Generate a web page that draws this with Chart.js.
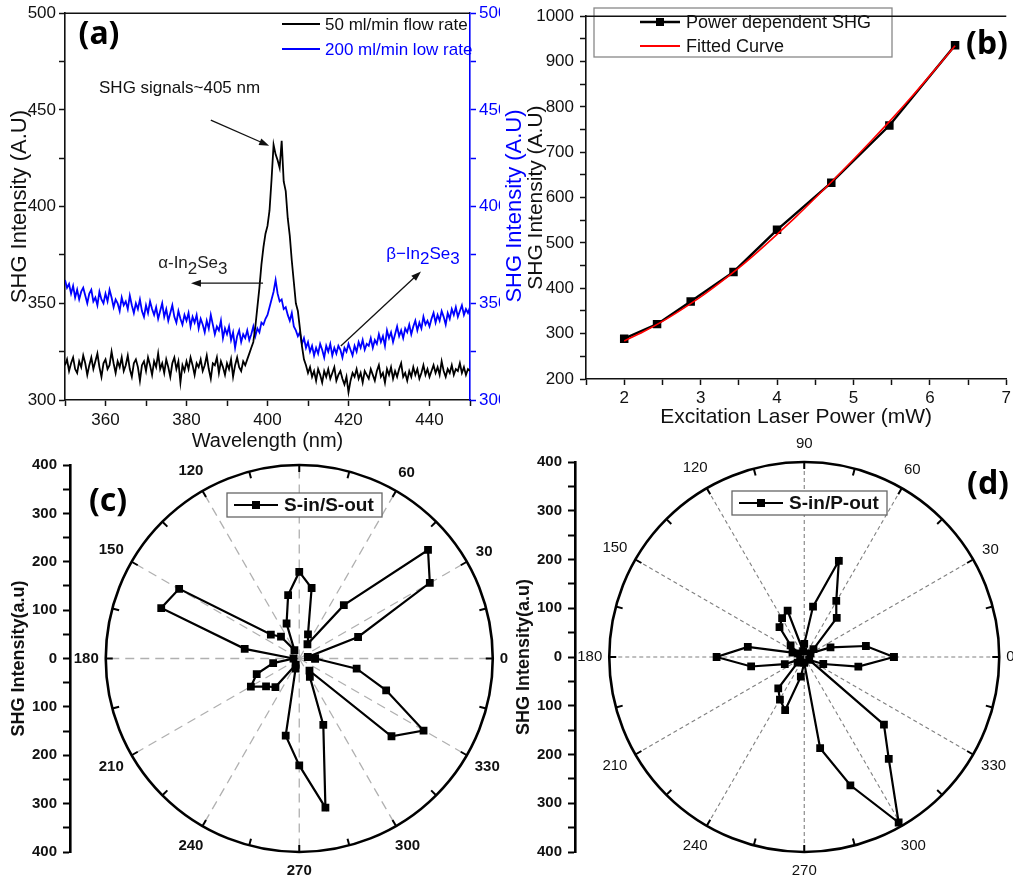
<!DOCTYPE html>
<html lang="en">
<head>
<meta charset="UTF-8">
<title>SHG of In2Se3</title>
<script src="https://cdn.jsdelivr.net/npm/chart.js@4.4.1/dist/chart.umd.min.js"></script>
<style>
  html, body { margin: 0; padding: 0; background: #fff; overflow: hidden; }
  body { width: 1013px; height: 881px; position: relative; }
  canvas { position: absolute; }
  #chartA { left: 0; top: 0; }
  #chartB { left: 500px; top: 0; }
  #chartC { left: 0; top: 450px; }
  #chartD { left: 505px; top: 430px; }
</style>
</head>
<body>
<canvas id="chartA" width="530" height="453"></canvas>
<canvas id="chartB" width="514" height="430"></canvas>
<canvas id="chartC" width="508" height="431"></canvas>
<canvas id="chartD" width="508" height="451"></canvas>

<script>
// --- spectra, 0.5 nm steps starting at 350 nm ---
const wlStart = 350;
const wlStep = 0.5;
const flow50 = [
  318,321,315,319,322,316,314,320,317,323,
  319,313,318,322,316,320,324,317,312,319,
  321,316,318,325,319,314,320,317,322,315,
  318,323,316,312,319,321,317,310,318,320,
  315,322,318,313,320,317,324,316,319,314,
  321,317,312,319,322,316,320,309,318,315,
  320,316,322,318,313,319,317,321,315,318,
  323,316,311,319,318,322,314,320,317,313,
  319,316,321,312,318,322,317,315,320,318,
  321,324,327,330,338,348,358,370,379,386,
  390,398,414,432,427,424,420,434,413,408,
  394,385,372,361,350,346,337,328,321,318,
  314,317,312,315,310,316,313,309,315,312,
  316,311,314,317,310,313,315,311,308,312,
  304,310,314,312,316,311,314,309,315,313,
  311,316,313,310,315,318,312,314,309,316,
  313,317,311,315,312,316,319,312,314,310,
  315,312,317,313,316,311,314,318,313,316,
  312,315,318,314,317,313,320,315,312,316,
  314,318,313,316,315,319,314,317,313,316,
  315
];
const flow200 = [
  362,358,360,355,359,353,357,352,356,358,
  354,350,355,357,351,353,349,356,352,350,
  355,351,357,353,348,352,350,346,353,349,
  351,347,354,349,345,350,347,352,346,343,
  349,345,351,347,344,348,342,346,350,343,
  347,341,345,349,343,340,346,342,339,344,
  341,345,338,343,340,344,337,342,339,335,
  341,337,344,339,334,338,336,341,332,337,
  334,338,331,335,327,333,336,330,334,332,
  336,331,334,338,333,337,335,340,339,342,
  344,348,352,356,362,355,351,352,347,348,
  344,341,345,338,336,333,335,329,332,327,
  330,325,328,323,327,324,329,326,322,328,
  325,329,323,327,324,328,326,322,327,325,
  329,326,323,328,325,330,327,331,326,329,
  328,332,327,331,329,334,330,333,328,336,
  332,335,330,334,338,333,336,332,337,335,
  339,334,338,341,336,340,337,343,339,341,
  338,342,345,340,344,341,346,343,339,345,
  342,347,344,348,343,346,349,344,347,345,
  348
];

// --- power dependence ---
const powerMW = [2.0, 2.43, 2.87, 3.43, 4.0, 4.71, 5.47, 6.33];
const shgPower = [289, 321, 371, 436, 529, 633, 759, 936];
const fitPowerMW = [2.0, 2.25, 2.5, 2.75, 3.0, 3.25, 3.5, 3.75, 4.0, 4.25, 4.5, 4.75, 5.0, 5.25, 5.5, 5.75, 6.0, 6.33];
const fitShg = [284, 304, 327, 353, 381, 412, 445, 481, 519, 558, 599, 641, 684, 728, 773, 820, 869, 935];

// --- polarization (degrees, intensity) ---
const polarAngles = [0,10,20,30,40,50,60,70,80,90,100,110,120,130,140,150,160,170,
                     180,190,200,210,220,230,240,250,260,270,280,290,300,310,320,330,340,350];
const ssOut = [33,18,130,313,349,144,34,53,148,179,133,77,20,59,77,288,305,115,
               12,55,94,116,90,77,15,22,162,221,313,146,44,33,250,298,192,121];
const spOut = [186,130,58,15,25,105,133,210,105,27,12,101,92,80,37,15,26,119,
               182,112,43,10,18,84,101,116,41,12,190,280,392,273,216,12,42,114];

const NARROW = "'Liberation Sans Narrow', 'Arial Narrow', 'Liberation Sans', Arial, sans-serif";
const SANS = "'Liberation Sans', Arial, sans-serif";
const TAG = "'Noto Sans', 'Liberation Sans', sans-serif";

Chart.defaults.font.family = SANS;
Chart.defaults.color = '#111';
Chart.defaults.animation = false;
Chart.defaults.responsive = false;
Chart.defaults.plugins.legend.display = false;
Chart.defaults.plugins.tooltip.enabled = false;

function drawArrow(ctx, x1, y1, x2, y2) {
  const a = Math.atan2(y2 - y1, x2 - x1), h = 10, w = 3.5;
  ctx.beginPath();
  ctx.moveTo(x1, y1);
  ctx.lineTo(x2 - h * 0.8 * Math.cos(a), y2 - h * 0.8 * Math.sin(a));
  ctx.stroke();
  ctx.beginPath();
  ctx.moveTo(x2, y2);
  ctx.lineTo(x2 - h * Math.cos(a) + w * Math.sin(a), y2 - h * Math.sin(a) - w * Math.cos(a));
  ctx.lineTo(x2 - h * Math.cos(a) - w * Math.sin(a), y2 - h * Math.sin(a) + w * Math.cos(a));
  ctx.closePath();
  ctx.fill();
}

// text with subscripted pieces: [[text, isSub], ...]
function drawChem(ctx, parts, x, y, size) {
  ctx.textAlign = 'left';
  ctx.textBaseline = 'middle';
  for (const [t, sub] of parts) {
    ctx.fillText(t, x, sub ? y + size * 0.32 : y);
    x += ctx.measureText(t).width;
  }
}

function squareMarker(ctx, x, y, s) {
  ctx.fillRect(x - s / 2, y - s / 2, s, s);
}

// line along the top of the plot area
const frameTop = {
  id: 'frameTop',
  afterDraw(chart, args, opts) {
    const {ctx, chartArea: ca} = chart;
    ctx.save();
    ctx.strokeStyle = opts.color || '#111';
    ctx.lineWidth = opts.width || 1.6;
    ctx.beginPath();
    ctx.moveTo(ca.left, ca.top);
    ctx.lineTo(ca.right, ca.top);
    ctx.stroke();
    ctx.restore();
  }
};

// legend rows drawn at fixed spots
const keyBox = {
  id: 'keyBox',
  afterDatasetsDraw(chart, args, opts) {
    const ctx = chart.ctx;
    ctx.save();
    if (opts.box) {
      const b = opts.box;
      ctx.fillStyle = '#fff';
      ctx.fillRect(b[0], b[1], b[2], b[3]);
      ctx.strokeStyle = opts.boxColor || '#888';
      ctx.lineWidth = 1.3;
      ctx.strokeRect(b[0], b[1], b[2], b[3]);
    }
    opts.items.forEach((it, i) => {
      const y = opts.y + i * (opts.dy || 0);
      ctx.strokeStyle = it.color;
      ctx.fillStyle = it.color;
      ctx.lineWidth = it.width || 2;
      ctx.beginPath();
      ctx.moveTo(opts.x, y);
      ctx.lineTo(opts.x + opts.len, y);
      ctx.stroke();
      if (it.marker) squareMarker(ctx, opts.x + opts.len / 2, y, it.marker);
      ctx.fillStyle = it.textColor || '#111';
      ctx.font = opts.font;
      ctx.textAlign = 'left';
      ctx.textBaseline = 'middle';
      ctx.fillText(it.text, opts.x + opts.len + opts.gap, y + 1);
    });
    ctx.restore();
  }
};

// panel letter
const panelTag = {
  id: 'panelTag',
  afterDraw(chart, args, opts) {
    const ctx = chart.ctx;
    ctx.save();
    ctx.font = 'bold 32px ' + TAG;
    ctx.fillStyle = '#000';
    ctx.textAlign = 'center';
    ctx.textBaseline = 'middle';
    ctx.fillText(opts.text, opts.x, opts.y);
    ctx.restore();
  }
};

// spectrum panel: clip at the neighbour panel, notes and arrows, blue axis title
const spectrumNotes = {
  id: 'spectrumNotes',
  beforeDraw(chart, args, opts) {
    chart.ctx.save();
    chart.ctx.beginPath();
    chart.ctx.rect(0, 0, opts.clipRight, chart.height);
    chart.ctx.clip();
  },
  afterDatasetsDraw(chart, args, opts) {
    const {ctx, scales: {x, y}} = chart;
    const px = v => x.getPixelForValue(v), py = v => y.getPixelForValue(v);
    ctx.save();
    ctx.font = '17px ' + SANS;
    ctx.fillStyle = '#111';
    ctx.textAlign = 'left';
    ctx.textBaseline = 'middle';
    ctx.fillText(opts.peakNote.text, px(opts.peakNote.x), py(opts.peakNote.y));
    ctx.strokeStyle = '#111';
    ctx.lineWidth = 1.3;
    opts.arrows.forEach(a => drawArrow(ctx, px(a[0]), py(a[1]), px(a[2]), py(a[3])));
    opts.phases.forEach(p => {
      ctx.fillStyle = p.color;
      drawChem(ctx, p.parts, px(p.x), py(p.y), 17);
    });
    ctx.restore();
  },
  afterDraw(chart, args, opts) {
    const ctx = chart.ctx;
    ctx.restore();
    ctx.save();
    ctx.translate(opts.sideTitle.x, opts.sideTitle.y);
    ctx.rotate(-Math.PI / 2);
    ctx.font = '22px ' + SANS;
    ctx.fillStyle = 'blue';
    ctx.textAlign = 'center';
    ctx.textBaseline = 'middle';
    ctx.fillText(opts.sideTitle.text, 0, 0);
    ctx.restore();
  }
};

// polar grid: dashed spokes, outer ring with ticks, angle labels
const polarFrame = {
  id: 'polarFrame',
  beforeDatasetsDraw(chart, args, opts) {
    const {ctx, scales: {x, y}} = chart;
    const cx = x.getPixelForValue(0), cy = y.getPixelForValue(0);
    const R = cy - y.getPixelForValue(opts.rMax);
    ctx.save();
    ctx.strokeStyle = opts.spokeColor;
    ctx.lineWidth = opts.spokeWidth;
    ctx.setLineDash(opts.dash);
    for (let a = 0; a < 360; a += 30) {
      const t = a * Math.PI / 180;
      ctx.beginPath();
      ctx.moveTo(cx, cy);
      ctx.lineTo(cx + R * Math.cos(t), cy - R * Math.sin(t));
      ctx.stroke();
    }
    ctx.setLineDash([]);
    ctx.strokeStyle = '#000';
    ctx.lineWidth = 2.6;
    ctx.beginPath();
    ctx.arc(cx, cy, R, 0, Math.PI * 2);
    ctx.stroke();
    ctx.lineWidth = 2;
    for (let a = 0; a < 360; a += 15) {
      const t = a * Math.PI / 180;
      ctx.beginPath();
      ctx.moveTo(cx + R * Math.cos(t), cy - R * Math.sin(t));
      ctx.lineTo(cx + (R - 7) * Math.cos(t), cy - (R - 7) * Math.sin(t));
      ctx.stroke();
    }
    ctx.font = opts.labelFont;
    ctx.fillStyle = '#111';
    ctx.textAlign = 'center';
    ctx.textBaseline = 'middle';
    for (let a = 0; a < 360; a += 30) {
      if (opts.hide.includes(a)) continue;
      const t = a * Math.PI / 180, txt = String(a);
      const c = Math.abs(Math.cos(t)), s = Math.abs(Math.sin(t));
      const w = ctx.measureText(txt).width, h = 11;
      const d = R + 7 + 6 * s + (w / 2) * c + (h / 2) * s;
      ctx.fillText(txt, cx + d * Math.cos(t), cy - d * Math.sin(t));
    }
    ctx.restore();
  }
};

function tickFont(size, weight) {
  return {family: NARROW, size: size, weight: weight || 'normal'};
}

// ---------- (a) spectra ----------
const wavelengths = flow50.map((_, i) => wlStart + i * wlStep);

new Chart(document.getElementById('chartA'), {
  type: 'line',
  data: {
    datasets: [
      {
        label: '50 ml/min flow rate',
        data: wavelengths.map((w, i) => ({x: w, y: flow50[i]})),
        borderColor: '#000', borderWidth: 1.8, pointRadius: 0, yAxisID: 'y'
      },
      {
        label: '200 ml/min low rate',
        data: wavelengths.map((w, i) => ({x: w, y: flow200[i]})),
        borderColor: '#0000ff', borderWidth: 1.8, pointRadius: 0, yAxisID: 'y2'
      }
    ]
  },
  options: {
    layout: {padding: {top: 6, left: 0, right: 0, bottom: 0}},
    scales: {
      x: {
        type: 'linear', min: 350, max: 450,
        afterFit: s => { s.height = 53; },
        border: {color: '#111', width: 1.6},
        grid: {drawOnChartArea: false, tickLength: 6, tickWidth: 1.5, tickColor: '#111'},
        ticks: {stepSize: 10, autoSkip: false, maxRotation: 0, padding: 4, font: tickFont(17),
                color: '#111', callback: v => v % 20 === 0 ? v : ''},
        title: {display: true, text: 'Wavelength (nm)', font: {size: 20}, color: '#111',
                padding: {top: 0, bottom: 0}}
      },
      y: {
        position: 'left', min: 300, max: 500,
        afterFit: s => { s.width = 65; },
        border: {color: '#111', width: 1.6},
        grid: {drawOnChartArea: false, tickLength: 6, tickWidth: 1.5, tickColor: '#111'},
        ticks: {stepSize: 25, autoSkip: false, padding: 3, font: tickFont(17), color: '#111',
                callback: v => v % 50 === 0 ? v : ''},
        title: {display: true, text: 'SHG Intensity (A.U)', font: {size: 22}, color: '#111',
                padding: {top: 7, bottom: 0}}
      },
      y2: {
        position: 'right', min: 300, max: 500,
        afterFit: s => { s.width = 60; },
        border: {color: '#0000ff', width: 1.6},
        grid: {drawOnChartArea: false, tickLength: 6, tickWidth: 1.5, tickColor: '#0000ff'},
        ticks: {stepSize: 25, autoSkip: false, padding: 3, font: tickFont(17), color: '#0000ff',
                callback: v => v % 50 === 0 ? v : ''}
      }
    },
    plugins: {
      frameTop: {color: '#111'},
      keyBox: {
        x: 282, y: 24, dy: 25, len: 38, gap: 5, font: '17px ' + SANS,
        items: [
          {text: '50 ml/min flow rate', color: '#000', width: 2.2},
          {text: '200 ml/min low rate', color: '#0000ff', width: 2.2, textColor: '#0000ff'}
        ]
      },
      panelTag: {text: '(a)', x: 99, y: 35},
      spectrumNotes: {
        clipRight: 500,
        sideTitle: {text: 'SHG Intensity (A.U)', x: 515, y: 206},
        peakNote: {text: 'SHG signals~405 nm', x: 358.4, y: 461.4},
        arrows: [
          [386.0, 444.7, 400.4, 431.5],
          [398.9, 360.4, 381.1, 360.4],
          [418.1, 327.9, 437.9, 366.5]
        ],
        phases: [
          {parts: [['\u03b1-In', 0], ['2', 1], ['Se', 0], ['3', 1]], x: 373.0, y: 370.5, color: '#222'},
          {parts: [['\u03b2\u2212In', 0], ['2', 1], ['Se', 0], ['3', 1]], x: 429.3, y: 375.5, color: '#0000ff'}
        ]
      }
    }
  },
  plugins: [spectrumNotes, frameTop, keyBox, panelTag]
});

// ---------- (b) power dependence ----------
new Chart(document.getElementById('chartB'), {
  type: 'line',
  data: {
    datasets: [
      {
        label: 'Fitted Curve',
        data: fitPowerMW.map((p, i) => ({x: p, y: fitShg[i]})),
        borderColor: '#ff0000', borderWidth: 1.6, pointRadius: 0, tension: 0.3
      },
      {
        label: 'Power dependent SHG',
        data: powerMW.map((p, i) => ({x: p, y: shgPower[i]})),
        borderColor: '#000', backgroundColor: '#000', borderWidth: 2.4,
        pointStyle: 'rect', pointRadius: 6, pointBackgroundColor: '#000', pointBorderWidth: 0
      }
    ]
  },
  options: {
    layout: {padding: {top: 6, left: 0, right: 0, bottom: 0}},
    scales: {
      x: {
        type: 'linear', min: 1.5, max: 7,
        afterFit: s => { s.height = 51; },
        border: {color: '#111', width: 1.6},
        grid: {drawOnChartArea: false, tickLength: 6, tickWidth: 1.5, tickColor: '#111'},
        ticks: {stepSize: 0.5, autoSkip: false, maxRotation: 0, padding: 3, font: tickFont(17),
                color: '#111', callback: v => Number.isInteger(v) ? v : ''},
        title: {display: true, text: 'Excitation Laser Power (mW)', font: {size: 21}, color: '#111',
                padding: {top: 0, bottom: 0}}
      },
      y: {
        min: 200, max: 1000,
        afterFit: s => { s.width = 86; },
        border: {color: '#111', width: 1.6},
        grid: {drawOnChartArea: false, tickLength: 6, tickWidth: 1.5, tickColor: '#111'},
        ticks: {stepSize: 50, autoSkip: false, padding: 6, font: tickFont(17), color: '#111',
                callback: v => v % 100 === 0 ? v : ''},
        title: {display: true, text: 'SHG Intensity (A.U)', font: {size: 21}, color: '#111',
                padding: {top: 24, bottom: 0}}
      }
    },
    plugins: {
      frameTop: {color: '#111'},
      keyBox: {
        box: [94, 8, 298, 49], boxColor: '#888',
        x: 140, y: 22, dy: 24, len: 40, gap: 6, font: '18px ' + SANS,
        items: [
          {text: 'Power dependent SHG', color: '#000', width: 2.4, marker: 8},
          {text: 'Fitted Curve', color: '#ff0000', width: 1.8}
        ]
      },
      panelTag: {text: '(b)', x: 487, y: 45}
    }
  },
  plugins: [frameTop, keyBox, panelTag]
});

// ---------- (c), (d) polar patterns ----------
function polarPoints(radii) {
  const pts = polarAngles.map((a, i) => {
    const t = a * Math.PI / 180;
    return {x: radii[i] * Math.cos(t), y: radii[i] * Math.sin(t)};
  });
  pts.push(pts[0]);
  return pts;
}

function polarChart(id, radii, name, frame, tag, padTop, legendY) {
  return new Chart(document.getElementById(id), {
    type: 'scatter',
    data: {
      datasets: [{
        label: name,
        data: polarPoints(radii),
        showLine: true, tension: 0,
        borderColor: '#000', borderWidth: 2.2,
        pointStyle: 'rect', pointRadius: 5.5, pointBackgroundColor: '#000', pointBorderWidth: 0
      }]
    },
    options: {
      layout: {padding: {top: padTop, bottom: 29, left: 0, right: 0}},
      scales: {
        x: {type: 'linear', display: false, min: -476, max: 422},
        y: {
          min: -400, max: 400,
          afterFit: s => { s.width = 70; },
          border: {color: '#000', width: 2.6},
          grid: {drawOnChartArea: false, tickLength: 7, tickWidth: 2, tickColor: '#000'},
          ticks: {stepSize: 50, autoSkip: false, padding: 6, color: '#111',
                  font: {family: SANS, size: 15, weight: 'bold'},
                  callback: v => v % 100 === 0 ? Math.abs(v) : ''},
          title: {display: true, text: 'SHG Intensity(a.u)', color: '#111',
                  font: {size: 18, weight: 'bold'}, padding: {top: 8, bottom: 0}}
        }
      },
      plugins: {
        polarFrame: frame,
        keyBox: {
          box: [227, legendY - 12, 155, 24], boxColor: '#666',
          x: 234, y: legendY, len: 44, gap: 6, font: 'bold 19px ' + SANS,
          items: [{text: name, color: '#000', width: 2.2, marker: 8}]
        },
        panelTag: tag
      }
    },
    plugins: [polarFrame, keyBox, panelTag]
  });
}

polarChart('chartC', ssOut, 'S-in/S-out',
  {rMax: 400, spokeColor: '#b0b0b0', spokeWidth: 1.3, dash: [9, 6], hide: [90],
   labelFont: 'bold 15px ' + SANS},
  {text: '(c)', x: 108, y: 52}, 12, 55);

polarChart('chartD', spOut, 'S-in/P-out',
  {rMax: 400, spokeColor: '#808080', spokeWidth: 1.1, dash: [4, 3], hide: [],
   labelFont: '15px ' + SANS},
  {text: '(d)', x: 483, y: 55}, 32, 73);
</script>
</body>
</html>
